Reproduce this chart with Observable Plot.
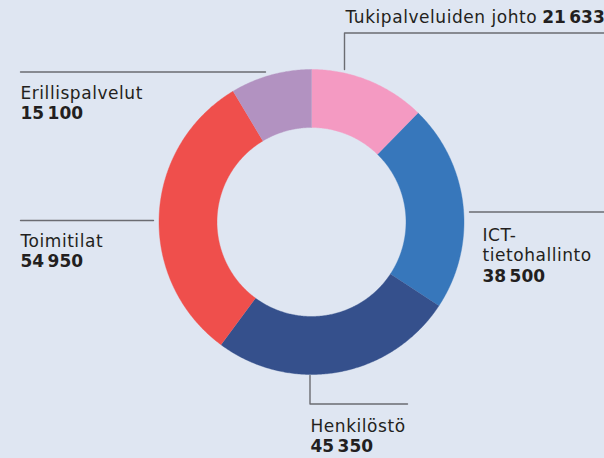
<!DOCTYPE html>
<html>
<head>
<meta charset="utf-8">
<script src="https://cdn.jsdelivr.net/npm/d3@7"></script>
<script src="https://cdn.jsdelivr.net/npm/@observablehq/plot@0.6"></script>
<style>
  html, body { margin: 0; padding: 0; background: #dfe6f2; overflow: hidden; }
  #chart svg { display: block; background: #dfe6f2; letter-spacing: 0.55px; }
  #chart svg g[font-weight="bold"] { letter-spacing: 0px; }
</style>
</head>
<body>
<div id="chart"></div>
<script>
// ---- data ----
const names = ["Tukipalveluiden johto", "ICT-tietohallinto", "Henkilöstö", "Toimitilat", "Erillispalvelut"];
const values = [21633, 38500, 45350, 54950, 15100];
const palette = ["#f49ac2", "#3777bb", "#35508c", "#ef4f4c", "#b292c1"];

// ---- layout (pixels) ----
const W = 604, H = 458;
const cx = 311, cy = 221.5, R = 152.5, r0 = 94.5;
const FONT = "DejaVu Sans";
const FS = 17;
const LS = 0.55;
const ink = "#231f20";
const leaderColor = "#6b6c72";

const fmt = d3.formatLocale({decimal: ",", thousands: "\u202f", grouping: [3], currency: ["", " €"]}).format(",d");

// slice polygons from d3.pie
const arcs = d3.pie().sort(null).value(d => d)(values);
const ring = [];
arcs.forEach((a, i) => {
  const n = Math.max(8, Math.ceil((a.endAngle - a.startAngle) / 0.01));
  for (let k = 0; k <= n; k++) {
    const t = a.startAngle + (a.endAngle - a.startAngle) * k / n;
    ring.push({name: names[i], x: cx + R * Math.sin(t), y: cy - R * Math.cos(t)});
  }
  for (let k = n; k >= 0; k--) {
    const t = a.startAngle + (a.endAngle - a.startAngle) * k / n;
    ring.push({name: names[i], x: cx + r0 * Math.sin(t), y: cy - r0 * Math.cos(t)});
  }
});

// leader lines and label placement per slice
const leaders = [
  [[344, 69], [344, 32.5], [610, 32.5]],
  [[469, 211.5], [610, 211.5]],
  [[309.5, 375], [309.5, 403.5], [407, 403.5]],
  [[20, 220], [153, 220]],
  [[20, 71.5], [265, 71.5]]
];
const leaderPts = leaders.flatMap((pts, i) => pts.map(([x, y]) => ({name: names[i], x, y})));

const labelPos = [
  {x: 345, y: 22, inline: true},
  {x: 482, y: 240, split: "-"},
  {x: 310, y: 431},
  {x: 20, y: 246},
  {x: 20, y: 98}
];
const lineH = 20.5;

const ctx = document.createElement("canvas").getContext("2d");
ctx.font = `${FS}px "${FONT}"`;
const measure = s => ctx.measureText(s).width + LS * s.length;

const nameTexts = [], valueTexts = [];
names.forEach((nm, i) => {
  const p = labelPos[i];
  let lines = p.split ? [nm.slice(0, nm.indexOf(p.split) + 1), nm.slice(nm.indexOf(p.split) + 1)] : [nm];
  lines.forEach((ln, j) => nameTexts.push({text: ln, x: p.x, y: p.y + j * lineH}));
  if (p.inline) {
    valueTexts.push({text: fmt(values[i]), x: p.x + measure(nm + " ") - 1, y: p.y});
  } else {
    valueTexts.push({text: fmt(values[i]), x: p.x, y: p.y + lines.length * lineH});
  }
});

const chart = Plot.plot({
  width: W,
  height: H,
  margin: 0,
  x: {domain: [0, W], axis: null},
  y: {domain: [H, 0], axis: null},
  color: {domain: names, range: palette},
  style: {background: "#dfe6f2", fontFamily: FONT, overflow: "hidden"},
  marks: [
    Plot.line(ring, {x: "x", y: "y", z: "name", fill: "name", stroke: "name", strokeWidth: 0.4, curve: "linear"}),
    Plot.line(leaderPts, {x: "x", y: "y", z: "name", stroke: leaderColor, strokeWidth: 1.4}),
    Plot.text(nameTexts, {x: "x", y: "y", text: "text", textAnchor: "start", lineAnchor: "bottom", fontSize: FS, fill: ink}),
    Plot.text(valueTexts, {x: "x", y: "y", text: "text", textAnchor: "start", lineAnchor: "bottom", fontSize: FS, fontWeight: "bold", fill: ink})
  ]
});
document.getElementById("chart").appendChild(chart);
</script>
</body>
</html>
